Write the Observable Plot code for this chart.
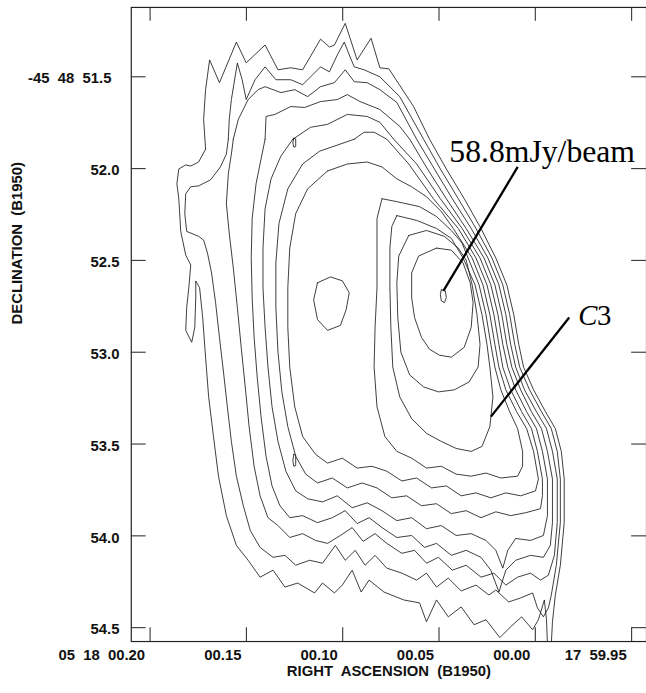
<!DOCTYPE html>
<html><head><meta charset="utf-8">
<script src="https://cdn.jsdelivr.net/npm/d3@7"></script>
<script src="https://cdn.jsdelivr.net/npm/@observablehq/plot@0.6"></script>
<style>
html,body{margin:0;padding:0;background:#fff;overflow:hidden;width:646px;height:693px}
#chart svg{display:block;white-space:pre}
</style></head><body><div id="chart"></div>
<script>
// Axis domains (RA seconds past 05 18 00, Dec arcsec past -45 48)
const raDomain = [0.20977, -0.05772];
const decDomain = [51.1223, 54.5755];
const raTicks = [0.20, 0.15, 0.10, 0.05, 0.00, -0.05];
const raTickLabels = ["05  18  00.20", "00.15", "00.10", "00.05", "00.00", "17  59.95"];
const decTicks = [51.5, 52.0, 52.5, 53.0, 53.5, 54.0, 54.5];
const decTickLabels = ["-45  48  51.5", "52.0", "52.5", "53.0", "53.5", "54.0", "54.5"];
const xTitle = "RIGHT  ASCENSION  (B1950)";
const yTitle = "DECLINATION  (B1950)";

// Contours, outermost first: [RA s, Dec arcsec]
const contour1 = [[0.1712,51.894],[0.1722,51.732],[0.1712,51.570],[0.1691,51.408],[0.1640,51.532],[0.1552,51.311],[0.1501,51.424],[0.1403,51.327],[0.1336,51.462],[0.1270,51.451],[0.1208,51.462],[0.1115,51.295],[0.1069,51.338],[0.1043,51.327],[0.0987,51.209],[0.0925,51.408],[0.0853,51.290],[0.0807,51.451],[0.0760,51.457],[0.0632,51.662],[0.0549,51.840],[0.0462,52.002],[0.0369,52.164],[0.0282,52.326],[0.0205,52.487],[0.0148,52.633],[0.0112,52.795],[0.0086,52.957],[0.0061,53.081],[0.0009,53.205],[-0.0053,53.324],[-0.0104,53.416],[-0.0135,53.540],[-0.0150,53.691],[-0.0150,53.928],[-0.0130,54.160],[-0.0104,54.322],[-0.0089,54.468],[-0.0083,54.592],[-0.0073,54.613],[-0.0063,54.592],[-0.0058,54.457],[-0.0047,54.349],[-0.0016,54.457],[0.0014,54.511],[0.0071,54.441],[0.0128,54.495],[0.0184,54.554],[0.0256,54.457],[0.0318,54.484],[0.0385,54.387],[0.0452,54.441],[0.0513,54.349],[0.0565,54.468],[0.0601,54.365],[0.0683,54.349],[0.0786,54.306],[0.0863,54.241],[0.0904,54.306],[0.0951,54.187],[0.1002,54.268],[0.1043,54.311],[0.1105,54.257],[0.1146,54.311],[0.1234,54.257],[0.1300,54.279],[0.1362,54.187],[0.1429,54.225],[0.1491,54.133],[0.1552,54.052],[0.1604,53.890],[0.1645,53.675],[0.1671,53.459],[0.1696,53.243],[0.1712,53.027],[0.1727,52.811],[0.1743,52.649],[0.1763,52.612],[0.1763,52.703],[0.1768,52.865],[0.1784,52.946],[0.1815,52.881],[0.1810,52.757],[0.1799,52.649],[0.1789,52.525],[0.1815,52.471],[0.1841,52.342],[0.1851,52.164],[0.1861,52.083],[0.1851,52.002],[0.1815,51.980],[0.1789,51.986],[0.1748,51.964],[0.1712,51.894]];
const contour2 = [[0.1594,51.840],[0.1589,51.732],[0.1578,51.624],[0.1547,51.425],[0.1522,51.516],[0.1501,51.624],[0.1455,51.516],[0.1403,51.446],[0.1347,51.516],[0.1270,51.516],[0.1208,51.543],[0.1156,51.489],[0.1115,51.446],[0.1069,51.473],[0.1028,51.381],[0.0992,51.311],[0.0966,51.381],[0.0940,51.446],[0.0889,51.462],[0.0807,51.500],[0.0704,51.608],[0.0580,51.840],[0.0493,52.002],[0.0400,52.164],[0.0308,52.326],[0.0225,52.487],[0.0169,52.633],[0.0133,52.795],[0.0107,52.957],[0.0081,53.081],[0.0030,53.205],[-0.0032,53.324],[-0.0083,53.416],[-0.0114,53.540],[-0.0130,53.691],[-0.0130,53.928],[-0.0109,54.160],[-0.0083,54.322],[-0.0068,54.392],[-0.0042,54.441],[-0.0011,54.392],[0.0014,54.311],[0.0076,54.338],[0.0138,54.360],[0.0205,54.295],[0.0241,54.322],[0.0308,54.268],[0.0385,54.300],[0.0452,54.230],[0.0513,54.279],[0.0565,54.203],[0.0616,54.241],[0.0693,54.203],[0.0771,54.176],[0.0832,54.106],[0.0884,54.160],[0.0935,54.079],[0.0987,54.133],[0.1038,54.052],[0.1105,54.149],[0.1172,54.133],[0.1244,54.160],[0.1300,54.106],[0.1362,54.117],[0.1429,54.063],[0.1480,53.971],[0.1516,53.836],[0.1552,53.675],[0.1578,53.486],[0.1599,53.297],[0.1619,53.108],[0.1640,52.919],[0.1660,52.730],[0.1681,52.568],[0.1702,52.460],[0.1722,52.390],[0.1748,52.369],[0.1810,52.342],[0.1820,52.245],[0.1815,52.137],[0.1789,52.099],[0.1748,52.094],[0.1686,52.061],[0.1635,51.991],[0.1604,51.921],[0.1594,51.840]];
const contour3 = [[0.1568,51.840],[0.1542,51.732],[0.1491,51.624],[0.1439,51.570],[0.1403,51.554],[0.1321,51.586],[0.1249,51.570],[0.1182,51.608],[0.1115,51.554],[0.1043,51.532],[0.0987,51.462],[0.0940,51.527],[0.0873,51.532],[0.0807,51.570],[0.0719,51.640],[0.0616,51.840],[0.0524,52.002],[0.0431,52.164],[0.0333,52.326],[0.0246,52.487],[0.0189,52.633],[0.0153,52.795],[0.0128,52.957],[0.0102,53.081],[0.0056,53.205],[-0.0006,53.324],[-0.0058,53.416],[-0.0089,53.540],[-0.0114,53.691],[-0.0114,53.928],[-0.0099,54.106],[-0.0068,54.214],[-0.0027,54.241],[0.0025,54.203],[0.0092,54.225],[0.0153,54.268],[0.0215,54.203],[0.0282,54.225],[0.0359,54.160],[0.0431,54.187],[0.0503,54.117],[0.0565,54.149],[0.0627,54.079],[0.0693,54.095],[0.0771,54.041],[0.0832,53.988],[0.0894,54.030],[0.0951,53.955],[0.1012,53.998],[0.1079,54.041],[0.1141,54.025],[0.1208,53.988],[0.1275,54.009],[0.1336,53.944],[0.1388,53.901],[0.1429,53.782],[0.1460,53.621],[0.1486,53.405],[0.1506,53.189],[0.1527,52.973],[0.1547,52.757],[0.1568,52.541],[0.1589,52.353],[0.1604,52.191],[0.1594,52.029],[0.1578,51.921],[0.1568,51.840]];
const contour4 = [[0.1403,51.840],[0.1398,51.716],[0.1352,51.705],[0.1270,51.662],[0.1197,51.667],[0.1115,51.635],[0.1028,51.624],[0.0976,51.597],[0.0910,51.635],[0.0807,51.678],[0.0704,51.770],[0.0652,51.840],[0.0560,52.002],[0.0462,52.164],[0.0359,52.326],[0.0266,52.487],[0.0210,52.633],[0.0174,52.795],[0.0148,52.957],[0.0122,53.081],[0.0076,53.205],[0.0020,53.324],[-0.0032,53.416],[-0.0063,53.540],[-0.0089,53.691],[-0.0089,53.928],[-0.0078,54.052],[-0.0042,54.117],[0.0025,54.106],[0.0102,54.133],[0.0153,54.187],[0.0189,54.306],[0.0231,54.187],[0.0282,54.117],[0.0359,54.079],[0.0436,54.106],[0.0513,54.041],[0.0575,54.063],[0.0642,53.998],[0.0719,54.009],[0.0796,53.955],[0.0863,53.901],[0.0925,53.933],[0.0987,53.863],[0.1054,53.901],[0.1131,53.928],[0.1208,53.890],[0.1275,53.901],[0.1326,53.836],[0.1367,53.728],[0.1398,53.567],[0.1424,53.351],[0.1444,53.135],[0.1460,52.919],[0.1470,52.703],[0.1475,52.487],[0.1470,52.272],[0.1450,52.083],[0.1424,51.948],[0.1403,51.840]];
const contour5 = [[0.1259,51.840],[0.1167,51.775],[0.1079,51.759],[0.0976,51.705],[0.0873,51.716],[0.0807,51.748],[0.0735,51.840],[0.0616,51.975],[0.0493,52.164],[0.0380,52.326],[0.0287,52.487],[0.0231,52.633],[0.0194,52.795],[0.0169,52.957],[0.0143,53.081],[0.0102,53.205],[0.0045,53.324],[-0.0006,53.416],[-0.0037,53.540],[-0.0063,53.691],[-0.0063,53.890],[-0.0042,53.998],[0.0025,54.025],[0.0102,54.014],[0.0143,54.079],[0.0169,54.176],[0.0205,54.079],[0.0256,54.025],[0.0333,53.988],[0.0411,53.998],[0.0488,53.944],[0.0565,53.961],[0.0642,53.901],[0.0719,53.917],[0.0796,53.863],[0.0873,53.820],[0.0951,53.847],[0.1028,53.782],[0.1105,53.815],[0.1182,53.798],[0.1244,53.755],[0.1295,53.648],[0.1336,53.486],[0.1367,53.297],[0.1388,53.081],[0.1403,52.865],[0.1414,52.649],[0.1414,52.433],[0.1403,52.218],[0.1372,52.056],[0.1321,51.932],[0.1259,51.840]];
const contour6 = [[0.0940,51.840],[0.0889,51.802],[0.0837,51.802],[0.0771,51.840],[0.0657,51.975],[0.0529,52.164],[0.0400,52.326],[0.0308,52.487],[0.0251,52.633],[0.0215,52.795],[0.0189,52.957],[0.0169,53.081],[0.0128,53.205],[0.0071,53.324],[0.0020,53.416],[-0.0011,53.540],[-0.0037,53.691],[-0.0037,53.782],[-0.0027,53.852],[0.0050,53.874],[0.0128,53.890],[0.0205,53.869],[0.0282,53.901],[0.0359,53.863],[0.0436,53.879],[0.0513,53.825],[0.0591,53.836],[0.0668,53.782],[0.0745,53.793],[0.0822,53.739],[0.0899,53.712],[0.0976,53.739],[0.1054,53.685],[0.1131,53.712],[0.1192,53.664],[0.1244,53.567],[0.1285,53.405],[0.1316,53.216],[0.1336,53.000],[0.1347,52.757],[0.1347,52.514],[0.1331,52.299],[0.1285,52.110],[0.1208,51.975],[0.1120,51.905],[0.1028,51.872],[0.0940,51.840]];
const contour7 = [[0.1079,52.013],[0.0976,51.975],[0.0873,51.964],[0.0796,51.991],[0.0719,52.056],[0.0642,52.099],[0.0565,52.153],[0.0488,52.234],[0.0426,52.326],[0.0328,52.487],[0.0272,52.633],[0.0236,52.795],[0.0210,52.957],[0.0189,53.081],[0.0153,53.205],[0.0097,53.324],[0.0045,53.416],[0.0009,53.540],[-0.0016,53.691],[-0.0001,53.755],[0.0076,53.782],[0.0153,53.766],[0.0231,53.793],[0.0308,53.766],[0.0385,53.782],[0.0462,53.728],[0.0539,53.739],[0.0616,53.685],[0.0693,53.701],[0.0771,53.648],[0.0848,53.621],[0.0925,53.631],[0.1002,53.577],[0.1079,53.604],[0.1141,53.556],[0.1208,53.459],[0.1249,53.297],[0.1275,53.081],[0.1285,52.865],[0.1285,52.649],[0.1275,52.433],[0.1244,52.245],[0.1182,52.110],[0.1079,52.013]];
const contour8 = [[0.0796,52.164],[0.0719,52.180],[0.0601,52.207],[0.0513,52.261],[0.0436,52.337],[0.0380,52.406],[0.0349,52.487],[0.0292,52.633],[0.0256,52.795],[0.0231,52.957],[0.0210,53.081],[0.0179,53.205],[0.0133,53.324],[0.0092,53.416],[0.0066,53.540],[0.0066,53.621],[0.0092,53.675],[0.0179,53.685],[0.0256,53.658],[0.0333,53.675],[0.0411,53.664],[0.0488,53.621],[0.0565,53.631],[0.0642,53.577],[0.0719,53.540],[0.0781,53.459],[0.0822,53.297],[0.0837,53.081],[0.0832,52.865],[0.0822,52.649],[0.0822,52.433],[0.0822,52.272],[0.0796,52.164]];
const contour8b = [[0.1131,52.622],[0.1064,52.590],[0.1002,52.611],[0.0966,52.676],[0.0982,52.768],[0.1012,52.854],[0.1079,52.881],[0.1131,52.822],[0.1151,52.714],[0.1131,52.622]];
const contour9 = [[0.0719,52.256],[0.0616,52.282],[0.0513,52.326],[0.0436,52.380],[0.0375,52.487],[0.0313,52.633],[0.0277,52.795],[0.0251,52.957],[0.0236,53.081],[0.0220,53.243],[0.0236,53.405],[0.0277,53.513],[0.0333,53.540],[0.0411,53.524],[0.0488,53.486],[0.0565,53.442],[0.0642,53.362],[0.0704,53.243],[0.0740,53.081],[0.0750,52.865],[0.0755,52.649],[0.0755,52.433],[0.0745,52.315],[0.0719,52.256]];
const contour10 = [[0.0657,52.364],[0.0565,52.337],[0.0472,52.369],[0.0400,52.433],[0.0359,52.498],[0.0328,52.633],[0.0303,52.795],[0.0287,52.957],[0.0297,53.081],[0.0344,53.162],[0.0421,53.205],[0.0503,53.216],[0.0580,53.189],[0.0652,53.124],[0.0698,53.000],[0.0714,52.811],[0.0719,52.622],[0.0709,52.476],[0.0657,52.364]];
const contour11 = [[0.0513,52.433],[0.0436,52.444],[0.0375,52.514],[0.0338,52.622],[0.0323,52.730],[0.0333,52.865],[0.0369,52.973],[0.0436,53.027],[0.0498,53.016],[0.0549,52.984],[0.0591,52.919],[0.0627,52.811],[0.0642,52.703],[0.0642,52.568],[0.0606,52.476],[0.0513,52.433]];
const contourPeak = [[0.0488,52.660],[0.0467,52.666],[0.0462,52.703],[0.0472,52.730],[0.0488,52.720],[0.0493,52.687],[0.0488,52.660]];
// two tiny isolated islands
const islandNorth = [[0.1254,51.835],[0.1244,51.838],[0.1244,51.880],[0.1254,51.883],[0.1259,51.860],[0.1254,51.835]];
const islandSouth = [[0.1254,53.556],[0.1244,53.560],[0.1244,53.617],[0.1254,53.621],[0.1259,53.590],[0.1254,53.556]];
const contours = [contour1, contour2, contour3, contour4, contour5, contour6, contour7, contour8, contour8b, contour9, contour10, contour11, contourPeak, islandNorth, islandSouth];

// Annotations
const peakLabel = {text: "58.8mJy/beam", ra: 0.04465, dec: 51.9641};
const peakLeader = {ra1: 0.00915, dec1: 51.9910, ra2: 0.04773, dec2: 52.6655};
const compLabel = {name: "C", num: "3", ra: -0.02223, dec: 52.8544};
const compLeader = {ra1: -0.0176, dec1: 52.8112, ra2: 0.02304, dec2: 53.3508};

const rows = contours.flatMap((pts, k) => pts.map(([ra, dec]) => ({ra, dec, k})));
const xt = raTicks.map((v, i) => ({v, label: raTickLabels[i]}));
const yt = decTicks.map((v, i) => ({v, label: decTickLabels[i]}));
const sans = "Liberation Sans, Arial, Helvetica, sans-serif";
const serif = "Liberation Serif, Times New Roman, serif";
const W = 652, H = 693, mL = 132, mR = 0, mT = 7, mB = 46;
const fw = W - mL - mR, fh = H - mT - mB;

const chart = Plot.plot({
  width: W, height: H,
  marginLeft: mL, marginRight: mR, marginTop: mT, marginBottom: mB,
  x: {domain: raDomain, axis: null},
  y: {domain: decDomain, reverse: true, axis: null},
  style: {background: "#fff", color: "#111"},
  marks: [
    Plot.line(rows, {x: "ra", y: "dec", z: "k", stroke: "#1a1a1a", strokeWidth: 0.85, curve: "linear", clip: true}),
    Plot.frame({stroke: "#222", strokeWidth: 1.2}),
    Plot.ruleX(raTicks, {x: d => d, insetTop: fh - 14, stroke: "#333", strokeWidth: 1.1}),
    Plot.ruleX(raTicks, {x: d => d, insetBottom: fh - 14, stroke: "#333", strokeWidth: 1.1}),
    Plot.ruleY(decTicks, {y: d => d, insetRight: fw - 15, stroke: "#333", strokeWidth: 1.1}),
    Plot.ruleY(decTicks, {y: d => d, insetLeft: fw - 15, stroke: "#333", strokeWidth: 1.1}),
    Plot.text(xt, {x: "v", text: "label", frameAnchor: "bottom", dy: 19, dx: -5, textAnchor: "end", fontSize: 15, fontWeight: "bold", fontFamily: sans, fill: "#111"}),
    Plot.text(yt.slice(0, 1), {y: "v", text: "label", frameAnchor: "left", dx: -20, dy: 1, textAnchor: "end", fontSize: 15, fontWeight: "bold", fontFamily: sans, fill: "#111"}),
    Plot.text(yt.slice(1), {y: "v", text: "label", frameAnchor: "left", dx: -12, dy: 2, textAnchor: "end", fontSize: 15, fontWeight: "bold", fontFamily: sans, fill: "#111"}),
    Plot.text([xTitle], {text: d => d, frameAnchor: "bottom", dy: 35, fontSize: 15, fontWeight: "bold", fontFamily: sans, fill: "#111"}),
    Plot.text([yTitle], {text: d => d, frameAnchor: "left", dx: -115, rotate: -90, fontSize: 15, fontWeight: "bold", fontFamily: sans, fill: "#111"}),
    Plot.link([peakLeader], {x1: "ra1", y1: "dec1", x2: "ra2", y2: "dec2", stroke: "#000", strokeWidth: 2.3}),
    Plot.link([compLeader], {x1: "ra1", y1: "dec1", x2: "ra2", y2: "dec2", stroke: "#000", strokeWidth: 2.3}),
    Plot.text([peakLabel], {x: "ra", y: "dec", text: "text", textAnchor: "start", lineAnchor: "bottom", fontSize: 32, fontFamily: serif, fill: "#000"}),
    Plot.text([compLabel], {x: "ra", y: "dec", text: "name", textAnchor: "start", lineAnchor: "bottom", fontSize: 29, fontStyle: "italic", fontFamily: serif, fill: "#000"}),
    Plot.text([compLabel], {x: "ra", y: "dec", text: "num", textAnchor: "start", lineAnchor: "bottom", dx: 19, fontSize: 29, fontFamily: serif, fill: "#000"})
  ]
});
document.getElementById("chart").appendChild(chart);
</script></body></html>
